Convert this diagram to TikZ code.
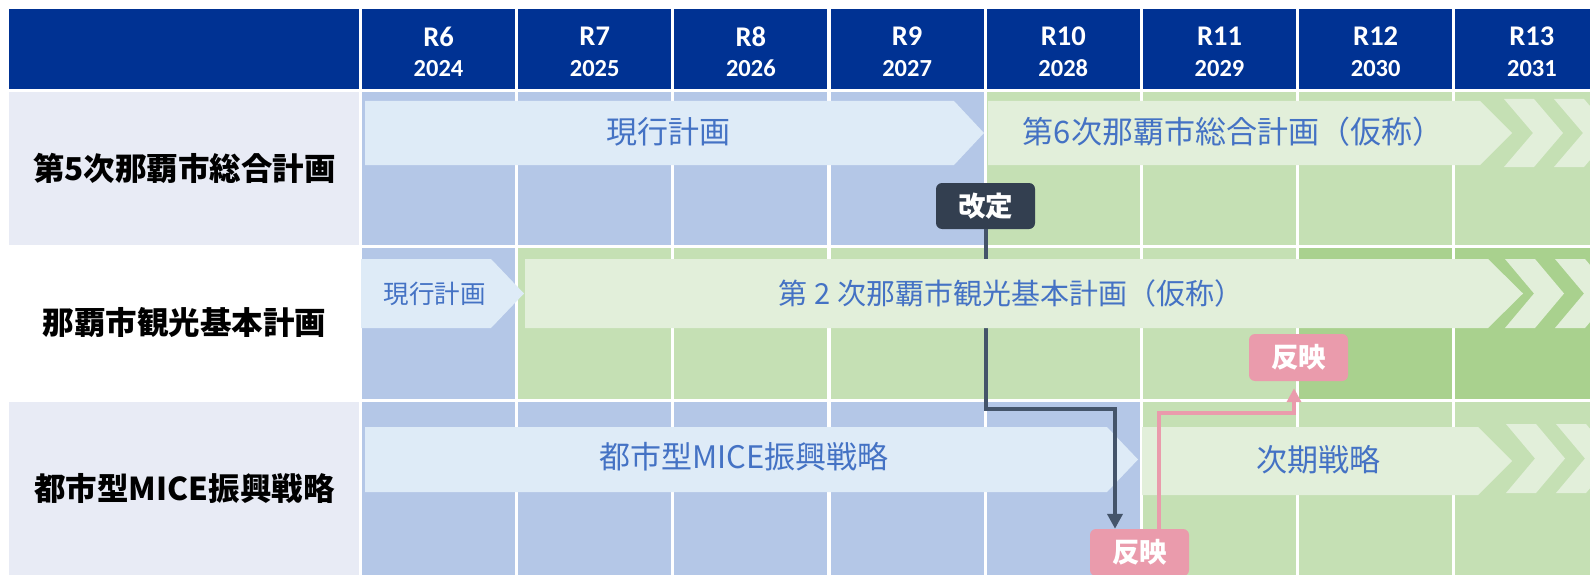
\documentclass[tikz,border=0pt]{standalone}
\usepackage{fontspec}
\newfontfamily\jp{Noto Sans CJK JP}
\newfontfamily\lat{Carlito}
\usetikzlibrary{arrows.meta,calc}
\definecolor{hdr}{RGB}{0,50,147}
\definecolor{lab}{RGB}{232,235,245}
\definecolor{cblue}{RGB}{180,199,231}
\definecolor{cgreen}{RGB}{197,224,180}
\definecolor{cdgreen}{RGB}{169,209,142}
\definecolor{pblue}{RGB}{222,235,247}
\definecolor{pgreen}{RGB}{226,239,218}
\definecolor{tblue}{RGB}{68,114,196}
\definecolor{kbox}{RGB}{51,63,80}
\definecolor{kline}{RGB}{68,84,106}
\definecolor{tagpink}{RGB}{234,155,172}
\tikzset{
  hdrR/.style={text=white, inner sep=0pt, font={\lat\bfseries\fontsize{28.5}{30}\selectfont}},
  hdrY/.style={text=white, inner sep=0pt, font={\lat\bfseries\fontsize{24.5}{26}\selectfont}},
  rowlabel/.style={text=black, inner sep=0pt, font={\jp\bfseries\fontsize{31.5}{36}\selectfont}},
  bartext/.style={text=tblue, inner sep=0pt, font={\jp\fontsize{31}{36}\selectfont}},
  tagbox/.style={rounded corners=6pt, minimum width=99pt, minimum height=46pt, inner sep=0pt,
     text=white, font={\jp\bfseries\fontsize{27.5}{30}\selectfont}},
  kconn/.style={draw=kline, line width=4pt, -{Triangle[width=15pt,length=15pt]}},
  pconn/.style={draw=tagpink, line width=4pt, -{Triangle[width=14pt,length=14pt]}},
}
\newcommand{\mychev}[4]{\fill[#4] (#1,#2) -- ++(30,0) -- ++(29,#3) -- ++(-29,#3) -- ++(-30,0) -- ++(29,-#3) -- cycle;}
\begin{document}
\begin{tikzpicture}[x=1pt,y=-1pt]
\useasboundingbox (0,0) rectangle (1590,575);
\clip (0,0) rectangle (1590,575);
% header
\fill[hdr] (9,9) rectangle (359,89);
\foreach \r/\yr [count=\i from 0] in {6/2024,7/2025,8/2026,9/2027,10/2028,11/2029,12/2030,13/2031} {
  \fill[hdr] ({362+156.2*\i},9) rectangle ++(153,80);
  \node[hdrR] (r\r) at ({362+156.2*\i+76.5},36.5) {R\r};
  \node[hdrY] (y\r) at ({362+156.2*\i+76.5},68.5) {\yr};
}
% label cells
\fill[lab] (9,92) rectangle (359,245);
\fill[lab] (9,402) rectangle (359,600);
% grid cells
\foreach \c [count=\i from 0] in {cblue,cblue,cblue,cblue,cgreen,cgreen,cgreen,cgreen}
  \fill[\c] ({362+156.2*\i},92) rectangle ++(153,153);
\foreach \c [count=\i from 0] in {cblue,cgreen,cgreen,cgreen,cgreen,cgreen,cdgreen,cdgreen}
  \fill[\c] ({362+156.2*\i},248) rectangle ++(153,151);
\foreach \c [count=\i from 0] in {cblue,cblue,cblue,cblue,cblue,cgreen,cgreen,cgreen}
  \fill[\c] ({362+156.2*\i},402) rectangle ++(153,200);
% row labels
\node[rowlabel] (lab1) at (184.5,168) {第5次那覇市総合計画};
\node[rowlabel] (lab2) at (184.5,322) {那覇市観光基本計画};
\node[rowlabel] (lab3) at (184.5,489) {都市型MICE振興戦略};
% row 1 bars
\fill[pblue] (365,101) -- (954,101) -- (984,133) -- (954,165) -- (365,165) -- cycle;
\node[bartext] (b1a) at (668,132) {現行計画};
\fill[pgreen] (988,101) -- (1480,101) -- (1512,133) -- (1480,165) -- (988,165) -- cycle;
\node[bartext] (b1b) at (1233,132) {第6次那覇市総合計画（仮称）};
\mychev{1504}{99}{34}{pgreen}
\mychev{1554}{99}{34}{pgreen}
% row 3 bars
\fill[pblue] (365,427) -- (1107,427) -- (1138,459.5) -- (1107,492) -- (365,492) -- cycle;
\node[bartext] (b3a) at (744,457) {都市型MICE振興戦略};
\fill[pgreen] (1142,427) -- (1478,427) -- (1512,461) -- (1478,495) -- (1142,495) -- cycle;
\node[bartext] (b3b) at (1318,460) {次期戦略};
\mychev{1506}{424}{34.5}{pgreen}
\mychev{1556}{424}{34.5}{pgreen}
% tags
\node[tagbox, fill=kbox] (kaitei) at (985.5,206) {改定};
\node[tagbox, fill=tagpink, minimum height=47pt] (hanei1) at (1298.5,357.5) {反映};
\node[tagbox, fill=tagpink, minimum height=47pt] (hanei2) at (1139.5,552.5) {反映};
% connectors
\draw[kconn] (kaitei.south) |- (1115,409) -- ($(hanei2.north)+(-24.5,0)$);
\draw[pconn] ($(hanei2.north)+(19.5,0)$) |- (1294,413) -- ($(hanei1.south)+(-4.5,7)$);
% row 2 bars (above the connector)
\fill[pblue] (361,259) -- (491,259) -- (524,293.5) -- (491,328) -- (361,328) -- cycle;
\node[bartext, font={\jp\fontsize{25.5}{30}\selectfont}] (b2a) at (434.5,293.5) {現行計画};
\fill[pgreen] (525,259) -- (1488,259) -- (1523,293.5) -- (1488,328) -- (525,328) -- cycle;
\node[bartext, font={\jp\fontsize{29}{34}\selectfont}] (b2b) at (1011,293) {第 2 次那覇市観光基本計画（仮称）};
\mychev{1505}{259}{34.5}{pgreen}
\mychev{1555}{259}{34.5}{pgreen}
\end{tikzpicture}
\end{document}
